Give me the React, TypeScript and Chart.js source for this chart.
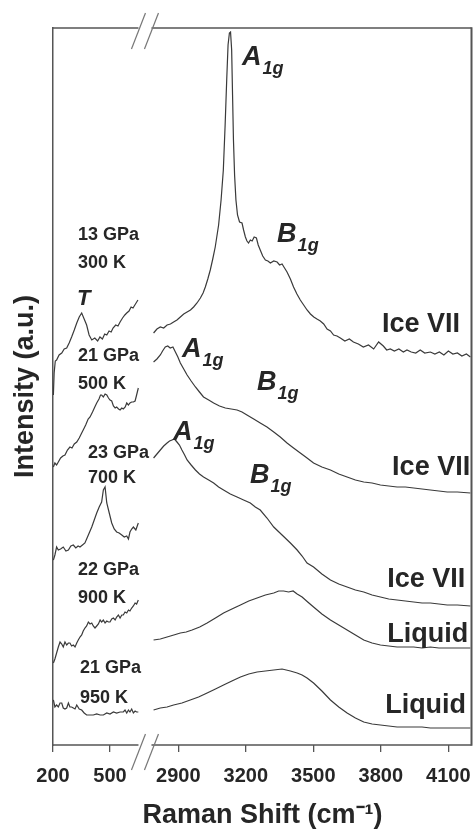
import React, { useEffect, useRef } from "react";
import { Chart, LinearScale, registerables } from "chart.js";

// ---------- data (Raman shift in cm-1, intensity in arbitrary units incl. vertical offset) ----------
const xTickValues = [200, 500, 2900, 3200, 3500, 3800, 4100];

// 13 GPa / 300 K (Ice VII)
const s1LowX = [202, 206, 212, 219, 232, 246, 259, 272, 285, 298, 312, 325, 338, 351, 364, 377, 390, 404, 420, 435, 447, 460, 472, 483, 495, 506, 516, 530, 542, 553, 566, 578, 588, 600, 611, 621, 634, 647];
const s1LowY = [350, 372, 384, 385, 390, 392, 396, 397, 402, 408, 415, 422, 428, 432, 426, 420, 410, 405, 407, 404, 408, 406, 411, 410, 414, 413, 417, 420, 419, 423, 427, 430, 432, 434, 438, 437, 441, 445];
const s1HighX = [2790, 2805, 2820, 2835, 2850, 2865, 2879, 2894, 2909, 2924, 2939, 2954, 2968, 2983, 2998, 3010, 3020, 3031, 3042, 3053, 3064, 3079, 3090, 3100, 3108, 3115, 3121, 3127, 3132, 3137, 3141, 3145, 3150, 3156, 3163, 3172, 3183, 3190, 3198, 3205, 3212, 3220, 3228, 3237, 3247, 3255, 3264, 3275, 3287, 3298, 3309, 3324, 3339, 3350, 3361, 3372, 3383, 3398, 3412, 3427, 3442, 3457, 3472, 3487, 3502, 3516, 3531, 3546, 3561, 3576, 3590, 3605, 3620, 3640, 3660, 3678, 3700, 3722, 3745, 3768, 3790, 3811, 3826, 3842, 3860, 3880, 3900, 3916, 3935, 3955, 3975, 3995, 4020, 4040, 4060, 4080, 4100, 4120, 4140, 4160, 4180, 4198];
const s1HighY = [412, 416, 418, 417, 420, 421, 423, 425, 428, 431, 433, 435, 438, 442, 447, 452, 458, 466, 475, 486, 498, 520, 545, 575, 620, 665, 700, 712, 713, 695, 650, 605, 570, 545, 530, 523, 522, 515, 508, 504, 502, 505, 504, 508, 507, 500, 495, 489, 485, 484, 482, 484, 483, 480, 481, 477, 473, 466, 458, 451, 445, 440, 435, 431, 428, 426, 424, 421, 416, 414, 410, 409, 407, 404, 406, 403, 401, 398, 400, 396, 403, 399, 395, 396, 394, 396, 393, 395, 393, 392, 395, 392, 393, 391, 393, 390, 394, 391, 392, 389, 391, 388];

// 21 GPa / 500 K (Ice VII)
const s2LowX = [202, 210, 219, 228, 240, 252, 263, 276, 289, 300, 312, 325, 338, 351, 359, 372, 385, 395, 408, 420, 430, 442, 450, 456, 465, 474, 483, 492, 500, 509, 518, 527, 535, 545, 553, 562, 570, 580, 588, 597, 605, 614, 623, 632, 640, 649];
const s2LowY = [278, 282, 280, 283, 287, 289, 290, 295, 298, 297, 301, 303, 307, 312, 315, 320, 326, 328, 333, 338, 342, 346, 350, 350, 348, 351, 350, 347, 345, 344, 339, 337, 338, 336, 335, 337, 336, 338, 342, 340, 342, 343, 343, 344, 350, 357];
const s2HighX = [2790, 2805, 2820, 2830, 2842, 2853, 2864, 2876, 2887, 2898, 2909, 2924, 2939, 2957, 2976, 2994, 3012, 3035, 3057, 3083, 3109, 3135, 3161, 3183, 3205, 3235, 3264, 3294, 3324, 3353, 3383, 3412, 3442, 3472, 3501, 3538, 3576, 3613, 3650, 3687, 3724, 3761, 3798, 3835, 3872, 3909, 3946, 3983, 4020, 4058, 4095, 4140, 4198];
const s2HighY = [383, 386, 390, 394, 398, 399, 397, 398, 393, 388, 382, 376, 370, 364, 358, 353, 348, 345, 342, 339, 337, 336, 335, 333, 330, 326, 322, 318, 313, 308, 302, 297, 292, 287, 282, 278, 275, 271, 268, 265, 263, 262, 260, 259, 258, 258, 257, 256, 255, 254, 253, 253, 252];

// 23 GPa / 700 K (Ice VII)
const s3LowX = [202, 210, 219, 228, 240, 254, 268, 281, 294, 307, 320, 332, 342, 355, 368, 377, 386, 395, 404, 417, 430, 443, 456, 465, 474, 483, 496, 509, 522, 535, 548, 562, 575, 588, 597, 605, 614, 623, 636, 649];
const s3LowY = [185, 190, 198, 195, 196, 198, 194, 195, 199, 200, 197, 199, 198, 200, 202, 206, 210, 214, 218, 225, 232, 238, 243, 255, 258, 242, 232, 222, 216, 213, 212, 210, 208, 209, 206, 213, 216, 218, 215, 222];
const s3HighX = [2790, 2805, 2820, 2835, 2850, 2861, 2872, 2883, 2894, 2905, 2916, 2928, 2939, 2957, 2976, 2994, 3012, 3035, 3057, 3079, 3101, 3131, 3161, 3190, 3220, 3242, 3264, 3294, 3324, 3361, 3398, 3428, 3450, 3472, 3501, 3538, 3576, 3613, 3650, 3687, 3724, 3761, 3798, 3835, 3872, 3909, 3946, 3983, 4020, 4058, 4095, 4140, 4198];
const s3HighY = [287, 291, 295, 299, 302, 304, 305, 306, 303, 300, 295, 290, 285, 280, 275, 271, 268, 265, 262, 258, 255, 251, 248, 245, 242, 238, 235, 227, 218, 210, 202, 195, 189, 182, 178, 171, 165, 161, 158, 155, 153, 150, 148, 146, 145, 144, 143, 142, 142, 141, 140, 140, 139];

// 22 GPa / 900 K (Liquid)
const s4LowX = [202, 210, 219, 228, 237, 246, 254, 263, 272, 281, 289, 298, 307, 316, 325, 333, 342, 351, 359, 368, 377, 386, 395, 404, 412, 421, 430, 439, 448, 456, 465, 474, 483, 492, 500, 509, 518, 527, 535, 544, 553, 562, 570, 579, 588, 597, 605, 614, 623, 632, 640, 649];
const s4LowY = [82, 86, 92, 98, 103, 101, 98, 103, 100, 102, 102, 99, 100, 98, 102, 105, 108, 110, 114, 117, 119, 123, 121, 122, 119, 117, 119, 121, 125, 123, 125, 122, 124, 123, 123, 126, 127, 125, 128, 130, 127, 130, 130, 133, 132, 135, 134, 137, 139, 142, 141, 145];
const s4HighX = [2790, 2820, 2850, 2880, 2909, 2935, 2961, 2995, 3028, 3065, 3101, 3138, 3176, 3213, 3250, 3287, 3324, 3346, 3368, 3390, 3410, 3428, 3450, 3475, 3501, 3538, 3576, 3613, 3650, 3687, 3724, 3761, 3798, 3835, 3872, 3909, 3946, 3983, 4020, 4058, 4095, 4140, 4198];
const s4HighY = [105, 106, 108, 110, 112, 113, 115, 118, 122, 127, 132, 136, 140, 144, 147, 150, 152, 154, 154, 153, 154, 151, 148, 143, 138, 131, 125, 120, 115, 110, 105, 102, 100, 99, 98, 98, 98, 97, 98, 97, 97, 97, 97];

// 21 GPa / 950 K (Liquid)
const s5LowX = [202, 210, 219, 228, 237, 246, 254, 263, 272, 281, 289, 298, 307, 316, 325, 338, 351, 364, 377, 395, 412, 430, 448, 465, 483, 500, 518, 535, 553, 570, 579, 588, 597, 605, 614, 623, 632, 640, 649];
const s5LowY = [45, 38, 40, 38, 42, 42, 37, 36, 37, 42, 38, 38, 37, 36, 40, 36, 35, 32, 30, 30, 30, 31, 30, 30, 32, 31, 33, 32, 33, 33, 35, 32, 35, 33, 36, 32, 34, 33, 33];
const s5HighX = [2790, 2820, 2850, 2879, 2916, 2953, 2990, 3028, 3065, 3101, 3138, 3176, 3213, 3250, 3287, 3324, 3361, 3398, 3428, 3450, 3472, 3501, 3538, 3576, 3613, 3650, 3687, 3724, 3761, 3798, 3835, 3872, 3909, 3946, 3983, 4020, 4080, 4140, 4198];
const s5HighY = [35, 37, 38, 40, 42, 45, 48, 52, 56, 60, 64, 68, 71, 73, 74, 75, 76, 74, 72, 70, 67, 62, 54, 45, 38, 32, 27, 23, 21, 20, 19, 18, 18, 18, 18, 17, 17, 17, 17];

// ---------- broken axis mapping ----------
const LOW_START = 200;
const LOW_FACTOR = 0.8444;
const HIGH_SHIFT = 2343.1;
const SPLIT = 1500;
const BREAK_AT = 684; // where the "//" marks sit (low-segment units)
const BREAK_V = (BREAK_AT - LOW_START) * LOW_FACTOR;

const toV = (x: number) => (x < SPLIT ? (x - LOW_START) * LOW_FACTOR : x - HIGH_SHIFT);
const fromV = (v: number) => (v < BREAK_V ? LOW_START + v / LOW_FACTOR : v + HIGH_SHIFT);

class BrokenScale extends LinearScale {
  static id = "broken";
  static defaults = {};
  buildTicks() {
    (this as any).start = this.min;
    (this as any).end = this.max;
    return xTickValues.map((value) => ({ value }));
  }
  getPixelForValue(value: number) {
    if (value === null || value === undefined) return NaN;
    const v0 = toV(this.min);
    const v1 = toV(this.max);
    return this.getPixelForDecimal((toV(value) - v0) / (v1 - v0));
  }
  getValueForPixel(pixel: number) {
    const v0 = toV(this.min);
    const v1 = toV(this.max);
    return fromV(v0 + this.getDecimalForPixel(pixel) * (v1 - v0));
  }
}

Chart.register(...registerables, BrokenScale);

const FONT = "'Liberation Sans', Arial, Helvetica, sans-serif";
const TEXT = "#262626";
const LINE = "#3a3a3a";
const FRAME = "#555555";

type Label = { text: string; sub?: string; x: number; y: number; size: number; italic?: boolean };
const textLabels: Label[] = [
  { text: "A", sub: "1g", x: 3183, y: 680, size: 27, italic: true },
  { text: "B", sub: "1g", x: 3339, y: 503, size: 27, italic: true },
  { text: "T", x: 326, y: 440, size: 22, italic: true },
  { text: "13 GPa", x: 332, y: 505, size: 18 },
  { text: "300 K", x: 332, y: 477, size: 18 },
  { text: "Ice VII", x: 3805, y: 413, size: 27 },
  { text: "21 GPa", x: 332, y: 384, size: 18 },
  { text: "500 K", x: 332, y: 356, size: 18 },
  { text: "A", sub: "1g", x: 2916, y: 388, size: 27, italic: true },
  { text: "B", sub: "1g", x: 3250, y: 355, size: 27, italic: true },
  { text: "Ice VII", x: 3850, y: 270, size: 27 },
  { text: "23 GPa", x: 384, y: 287, size: 18 },
  { text: "700 K", x: 384, y: 262, size: 18 },
  { text: "A", sub: "1g", x: 2876, y: 305, size: 27, italic: true },
  { text: "B", sub: "1g", x: 3219, y: 262, size: 27, italic: true },
  { text: "Ice VII", x: 3828, y: 158, size: 27 },
  { text: "22 GPa", x: 332, y: 170, size: 18 },
  { text: "900 K", x: 332, y: 142, size: 18 },
  { text: "Liquid", x: 3828, y: 103, size: 27 },
  { text: "21 GPa", x: 342, y: 72, size: 18 },
  { text: "950 K", x: 342, y: 42, size: 18 },
  { text: "Liquid", x: 3819, y: 32, size: 27 },
];

const pairs = (xs: number[], ys: number[]) => xs.map((x, i) => ({ x, y: ys[i] }));

const series = [
  [s1LowX, s1LowY], [s1HighX, s1HighY],
  [s2LowX, s2LowY], [s2HighX, s2HighY],
  [s3LowX, s3LowY], [s3HighX, s3HighY],
  [s4LowX, s4LowY], [s4HighX, s4HighY],
  [s5LowX, s5LowY], [s5HighX, s5HighY],
];

const decorPlugin = {
  id: "decor",
  afterDraw(chart: any) {
    const { ctx, chartArea } = chart;
    const xs = chart.scales.x;
    const ys = chart.scales.y;
    const { left, top, bottom } = chartArea;
    const right = Math.round(Math.min(chartArea.right, chart.width - 2)) - 0.5;
    const bx = xs.getPixelForValue(BREAK_AT);
    const gap = 6.5;
    ctx.save();
    // annotations first (frame drawn over them, like the original)
    ctx.fillStyle = TEXT;
    ctx.textAlign = "left";
    ctx.textBaseline = "alphabetic";
    for (const l of textLabels) {
      const px = xs.getPixelForValue(l.x);
      const py = ys.getPixelForValue(l.y);
      ctx.font = `${l.italic ? "italic " : ""}bold ${l.size}px ${FONT}`;
      ctx.fillText(l.text, px, py);
      if (l.sub) {
        const w = ctx.measureText(l.text).width;
        ctx.font = `italic bold ${Math.round(l.size * 0.67)}px ${FONT}`;
        ctx.fillText(l.sub, px + w + 1, py + 9);
      }
    }
    ctx.strokeStyle = FRAME;
    ctx.lineWidth = 1.5;
    ctx.beginPath();
    ctx.moveTo(left, top); ctx.lineTo(bx - gap, top);
    ctx.moveTo(bx + gap, top); ctx.lineTo(right, top);
    ctx.stroke();
    ctx.beginPath();
    ctx.moveTo(right, bottom); ctx.lineTo(bx + gap, bottom);
    ctx.moveTo(bx - gap, bottom); ctx.lineTo(left, bottom);
    ctx.stroke();
    // right edge of the frame
    ctx.fillStyle = FRAME;
    ctx.fillRect(right - 1, top - 0.75, 2, bottom - top + 1.5);
    // break marks
    ctx.strokeStyle = "#777";
    ctx.lineWidth = 1.2;
    for (const cy of [top + 3, bottom + 7]) {
      for (const off of [-gap, gap]) {
        ctx.beginPath();
        ctx.moveTo(bx + off - 7, cy + 18);
        ctx.lineTo(bx + off + 7, cy - 18);
        ctx.stroke();
      }
    }
    ctx.restore();
  },
};

export default function App() {
  const ref = useRef<HTMLCanvasElement | null>(null);
  useEffect(() => {
    if (!ref.current) return;
    const chart = new Chart(ref.current, {
      type: "line",
      data: {
        datasets: series.map(([xs, ys], i) => ({
          label: `s${i}`,
          data: pairs(xs, ys),
          borderColor: LINE,
          borderWidth: 1.2,
          pointRadius: 0,
          fill: false,
          tension: 0,
        })),
      },
      options: {
        animation: false,
        responsive: false,
        devicePixelRatio: 1,
        layout: { padding: { top: 28, right: 2, left: 0, bottom: 0 } },
        plugins: { legend: { display: false }, tooltip: { enabled: false } },
        scales: {
          x: {
            type: "broken" as any,
            min: 200,
            max: 4205,
            border: { display: false },
            grid: { display: true, drawOnChartArea: false, drawTicks: true, tickLength: 7, color: FRAME, lineWidth: 1.3 },
            ticks: {
              autoSkip: false,
              maxRotation: 0,
              padding: 12,
              color: TEXT,
              font: { family: FONT, size: 20, weight: "bold" },
              callback: (v: any) => String(v),
            },
            title: {
              display: true,
              text: "Raman Shift (cm⁻¹)",
              color: TEXT,
              font: { family: FONT, size: 27, weight: "bold" },
              padding: { top: 0, bottom: 0 },
            },
            afterFit: (s: any) => {
              s.height = 87;
              s.paddingLeft = 0;
              s.paddingRight = 0;
            },
          } as any,
          y: {
            type: "linear",
            min: 0,
            max: 717,
            grid: { display: false },
            border: { display: true, color: FRAME, width: 1.5 },
            ticks: { display: false },
            title: {
              display: true,
              text: "Intensity (a.u.)",
              color: TEXT,
              font: { family: FONT, size: 27, weight: "bold" },
              padding: { top: 9, bottom: 0 },
            },
            afterFit: (s: any) => {
              s.width = 53;
              s.paddingTop = 0;
              s.paddingBottom = 0;
            },
          },
        },
      },
      plugins: [decorPlugin],
    });
    return () => chart.destroy();
  }, []);
  return (
    <div style={{ position: "fixed", left: 0, top: 0, width: 474, height: 832, background: "#fff" }}>
      <canvas ref={ref} width={474} height={832} style={{ display: "block" }} />
    </div>
  );
}
